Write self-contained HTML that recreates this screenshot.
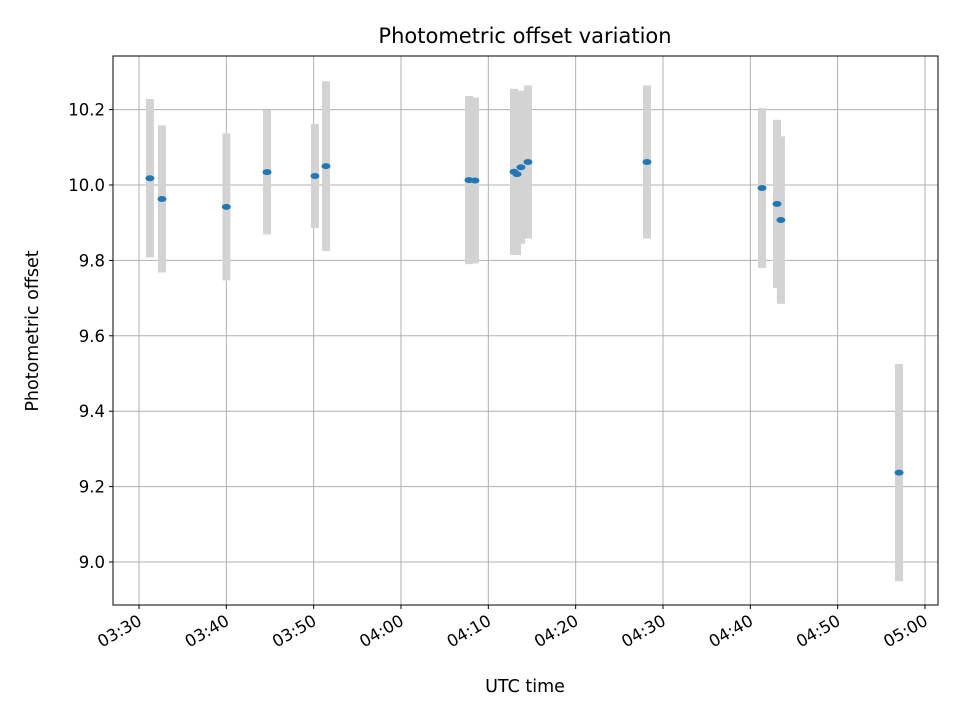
<!DOCTYPE html>
<html><head><meta charset="utf-8"><style>
body{margin:0;background:#fff}
svg text{font-family:"DejaVu Sans","Liberation Sans",sans-serif;fill:#000}
</style></head><body>
<svg id="chart" width="960" height="720" xmlns="http://www.w3.org/2000/svg">
<rect x="0" y="0" width="960" height="720" fill="#fff"/>
<text x="525" y="43" style="font-size:21px" text-anchor="middle">Photometric offset variation</text>
<text x="525" y="692" style="font-size:17.5px" text-anchor="middle">UTC time</text>
<text transform="translate(38,331) rotate(-90)" style="font-size:17.5px" text-anchor="middle">Photometric offset</text>
<g id="grid"></g><g id="bars"></g><g id="pts"></g><g id="ticks"></g>
<rect x="113" y="56" width="825" height="549" fill="none" stroke="#000" stroke-width="1"/>
</svg>
<script>
// minutes after 03:30 UTC
const times=[1.25,2.63,10,14.66,20.15,21.41,37.79,38.47,42.94,43.28,43.74,44.54,58.17,71.34,73.06,73.5,87.03];
const offsets=[10.018,9.963,9.942,10.034,10.024,10.05,10.013,10.012,10.035,10.029,10.047,10.061,10.061,9.992,9.95,9.907,9.237];
const errors=[0.21,0.195,0.195,0.165,0.138,0.225,0.223,0.22,0.22,0.215,0.203,0.203,0.203,0.212,0.223,0.222,0.288];
const xTickMinutes=[0,10,20,30,40,50,60,70,80,90];
const xTickLabels=["03:30","03:40","03:50","04:00","04:10","04:20","04:30","04:40","04:50","05:00"];
const yTicks=[9.0,9.2,9.4,9.6,9.8,10.0,10.2];
const yTickLabels=["9.0","9.2","9.4","9.6","9.8","10.0","10.2"];
const X=m=>139+m*8.733;
const Y=v=>185-(v-10)*377;
const NS="http://www.w3.org/2000/svg";
function mk(p,t,a){const e=document.createElementNS(NS,t);for(const k in a)e.setAttribute(k,a[k]);document.getElementById(p).appendChild(e);return e;}
xTickMinutes.forEach((m,i)=>{const x=X(m);
 const g=mk('grid','line',{x1:x,x2:x,y1:56,y2:605,stroke:'#b0b0b0','stroke-width':1});
 
 
 const t=mk('ticks','line',{x1:x,x2:x,y1:605,y2:609,stroke:'#000'});
 
 
 const l=mk('ticks','text',{transform:`translate(${x+4},${624}) rotate(-30)`,style:'font-size:16.5px','text-anchor':'end'});
 l.textContent=xTickLabels[i];
 
 
});
yTicks.forEach((v,i)=>{const y=Y(v);
 const g=mk('grid','line',{x1:113,x2:938,y1:y,y2:y,stroke:'#b0b0b0','stroke-width':1});
 
 
 const t=mk('ticks','line',{x1:109,x2:113,y1:y,y2:y,stroke:'#000'});
 
 
 const l=mk('ticks','text',{x:105,y:y+6,style:'font-size:16.5px','text-anchor':'end'});
 l.textContent=yTickLabels[i];
 
 
});
times.forEach((m,i)=>{const x=X(m),v=offsets[i],e=errors[i];
 const b=mk('bars','rect',{x:x-4,y:Y(v+e),width:8,height:Y(v-e)-Y(v+e),fill:'#d3d3d3'});
 
 
 const p=mk('pts','ellipse',{cx:x,cy:Y(v),rx:4.5,ry:3,fill:'#1f77b4'});
 
 
});
</script>
</body></html>
